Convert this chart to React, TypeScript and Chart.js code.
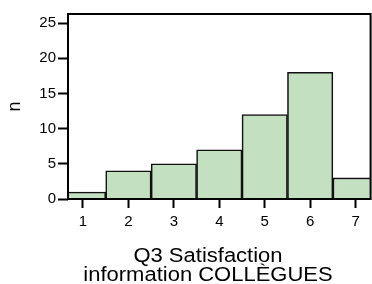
import React, { useEffect, useRef } from "react";
import { Chart, registerables } from "chart.js";

Chart.register(...registerables);

const categories = [1, 2, 3, 4, 5, 6, 7];
const counts = [1, 4, 5, 7, 12, 18, 3];
const yTicks = [0, 5, 10, 15, 20, 25];
const xTitle = ["Q3 Satisfaction", "information COLLÈGUES"];
const yTitle = "n";

const FONT = "'Liberation Sans', Arial, Helvetica, sans-serif";

const framePlugin = {
  id: "frame",
  afterDatasetsDraw(chart: any) {
    const { ctx, chartArea } = chart;
    ctx.save();
    ctx.strokeStyle = "#000";
    ctx.lineWidth = 2;
    ctx.strokeRect(chartArea.left, chartArea.top, chartArea.right - chartArea.left, chartArea.bottom - chartArea.top);
    ctx.restore();
  },
  afterDraw(chart: any) {
    const { ctx, chartArea } = chart;
    ctx.save();
    ctx.fillStyle = "#000";
    // x-axis title (two lines, slightly wide lettering like the reference)
    ctx.font = `20px ${FONT}`;
    ctx.textAlign = "center";
    ctx.textBaseline = "alphabetic";
    const cx = 208;
    const baselines = [chartArea.bottom + 63, chartArea.bottom + 82];
    xTitle.forEach((line, i) => {
      ctx.save();
      ctx.translate(cx, baselines[i]);
      ctx.scale(1.1, 1);
      ctx.fillText(line, 0, 0);
      ctx.restore();
    });
    // y-axis title
    ctx.font = `18px ${FONT}`;
    ctx.save();
    ctx.translate(20, (chartArea.top + chartArea.bottom) / 2);
    ctx.rotate(-Math.PI / 2);
    ctx.fillText(yTitle, 0, 0);
    ctx.restore();
    ctx.restore();
  },
};

export default function App() {
  const ref = useRef<HTMLCanvasElement>(null);
  useEffect(() => {
    document.body.style.margin = "0";
    const chart = new Chart(ref.current!, {
      type: "bar",
      data: {
        datasets: [
          {
            data: categories.map((c, i) => ({ x: c, y: counts[i] })),
            backgroundColor: "#c3e1c0",
            borderColor: "#111",
            borderWidth: 1.6,
            barPercentage: 1,
            categoryPercentage: 1,
          },
        ],
      },
      options: {
        responsive: false,
        animation: false,
        layout: { padding: { top: 14, right: 1.4, left: 0, bottom: 0 } },
        plugins: { legend: { display: false }, tooltip: { enabled: false } },
        scales: {
          x: {
            type: "linear",
            min: 0.67,
            max: 7.33,
            offset: false,
            afterBuildTicks: (s: any) => {
              s.ticks = categories.map((v) => ({ value: v }));
            },
            afterFit: (s: any) => {
              s.height = 85;
            },
            border: { display: false },
            grid: { offset: false, drawOnChartArea: false, drawTicks: true, tickLength: 9, tickWidth: 2, tickColor: "#000" },
            ticks: { color: "#000", font: { family: FONT, size: 15 }, padding: 5, maxRotation: 0 },
            title: { display: false },
          },
          y: {
            min: 0,
            max: 26.28,
            afterBuildTicks: (s: any) => {
              s.ticks = yTicks.map((v) => ({ value: v }));
            },
            afterFit: (s: any) => {
              s.width = 68;
            },
            border: { display: false },
            grid: { drawOnChartArea: false, drawTicks: true, tickLength: 10, tickWidth: 2, tickColor: "#000" },
            ticks: { color: "#000", font: { family: FONT, size: 15 }, padding: 2 },
            title: { display: false },
          },
        },
      },
      plugins: [framePlugin],
    });
    return () => chart.destroy();
  }, []);
  return <canvas ref={ref} width={372} height={284} style={{ display: "block" }} />;
}
